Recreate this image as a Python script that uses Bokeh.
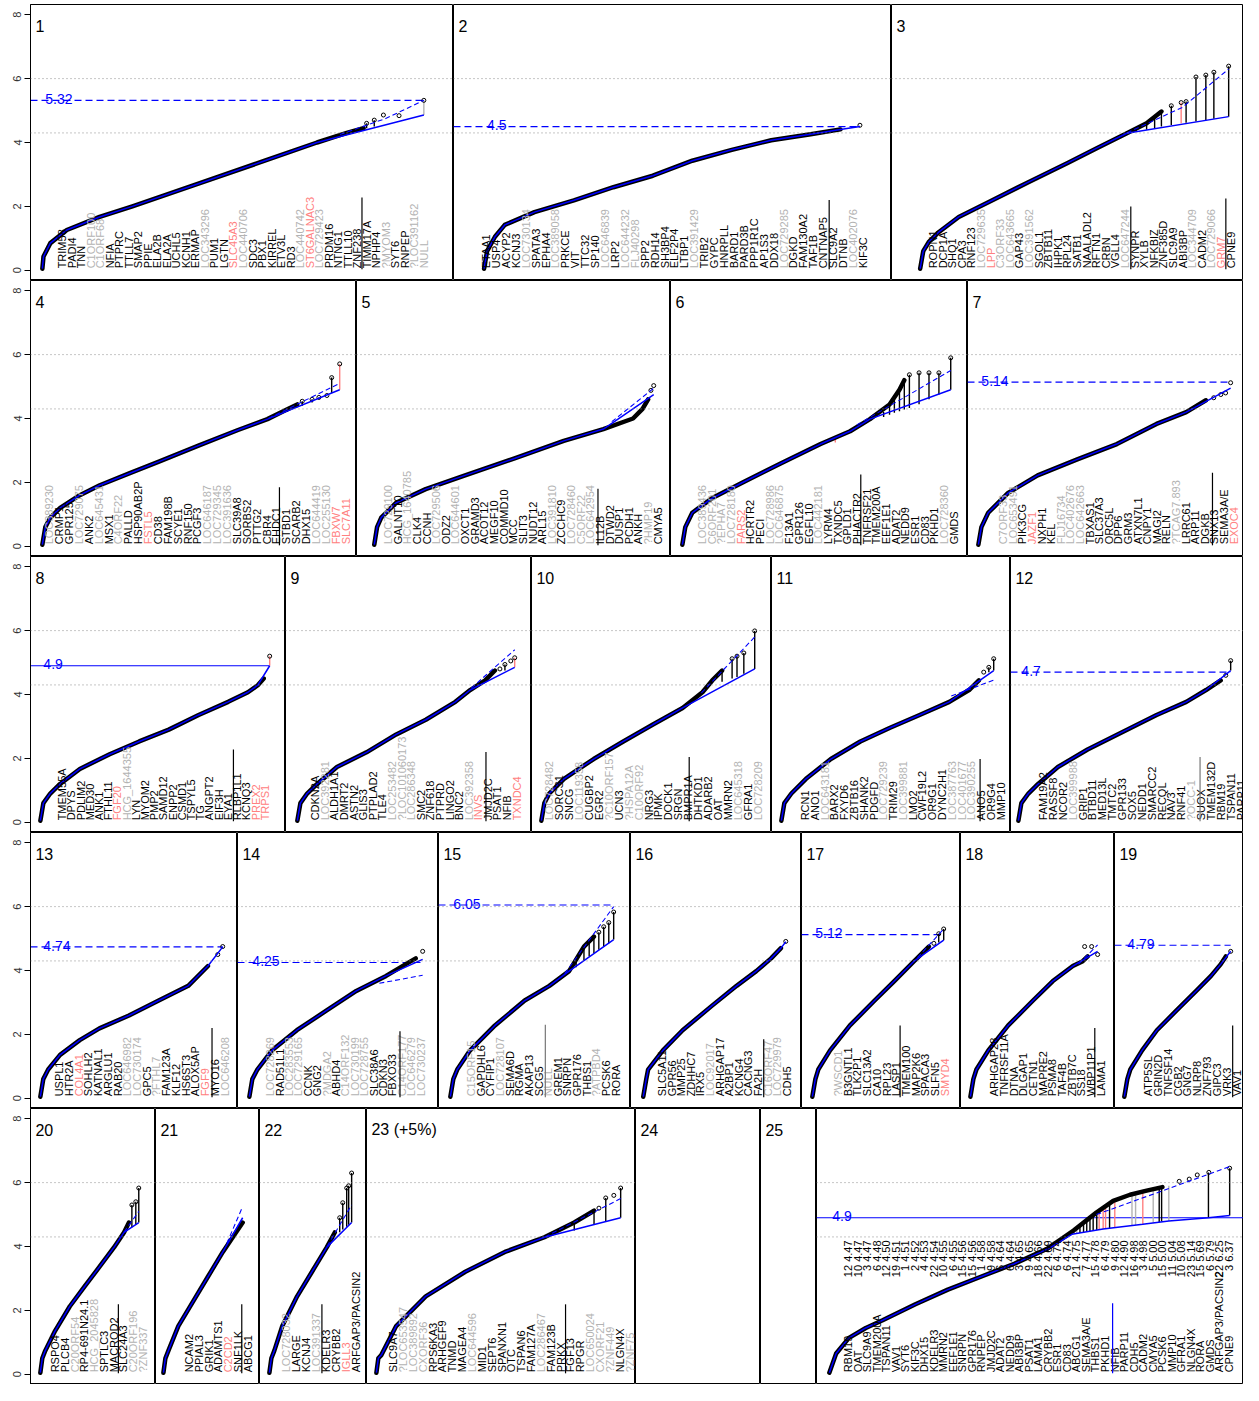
import math
from bokeh.plotting import figure
from bokeh.layouts import row, column
from bokeh.models import Range1d, FixedTicker, Span
from bokeh.core.properties import value
from bokeh.embed import file_html
from bokeh.resources import INLINE

# ------------------------------------------------------------------ data
# gene labels per chromosome panel ("~" = grey, "!" = red)
LABELS = {
 1: "TRIM58 PADI4 TNN ~C1ORF100 ~C1ORF68 NFIA PTPRC TTLL7 SMAP2 PPIE ELA2B ELA2A UCHL5 KCNH1 ERMAP ~LOC343296 PUM1 LGTN !SLC45A3 ~LOC440706 SDC3 PBX1 KIRREL ETV3L RD3 ~LOC440742 !ST6GALNAC3 ~LOC729423 PRDM16 NTNG1 TTLL10 ZNF238 TIMM17A NPHP4 ~?MYOM3 SYT6 RNPEP ~?LOC391162 ~NULL",
 2: "ETAA1 USP4 ACYP2 KCNJ3 ~LOC730134 SPATA3 EPHA4 ~LOC389058 PRKCE VIT TTC32 SP140 ~LOC646839 LRP2 ~LOC644232 ~FLJ40298 SPP2 RDH14 SH3BP4 ELF2P4 LTBP1 ~LOC391429 TRIB2 GYPC HNRPLL BARD1 PARD3B PPP1R1C AP1S3 DDX18 ~LOC729285 DGKD FAM130A2 TAF1B CNTNAP5 SLC9A2 DTNB ~LOC402076 KIF3C",
 3: "ROPN1 DCP1A SHQ1 CPA3 RNF123 ~LOC729635 !LPP ~C3ORF33 ~LOC643665 GAP43 ~LOC391562 SGOL1 ZBTB11 IHPK1 RPL24 SATB1 NAALADL2 RFTN1 CRBN VGLL4 ~LOC647244 SYNPR XYLB NFKBIZ ZNF385D SLC9A9 ABI3BP ~LOC344709 CADM2 ~LOC729066 !GRM7 CPNE9",
 4: "~LOC389230 CRMP1 GPR125 ~LOC729075 ANK2 ~LOC645431 MSX1 ~C4ORF22 PALLD HSP90AB2P !FSTL5 CD38 FAM198B SCYE1 RNF150 PCGF3 ~LOC646187 ~LOC729345 ~LOC391636 SLC39A8 SORBS2 PTTG2 CBR4 EHDC1 STBD1 SCARB2 DHX15 ~LOC644419 ~LOC255130 !FBXW7 !SLC7A11",
 5: "~LOC729100 GALNT10 ~HCG_1640785 CLK4 CCNH ~LOC729506 ODZ2 ~LOC644601 OXCT1 GRAMD3 ACOT12 MEGF10 COMMD10 MCC SLIT3 NUDT12 ARL15 ~LOC391810 ZCCHC9 ~LOC728460 ~C5ORF22 ~LOC642954 IL12B DTWD2 DUSP1 PCDH1 ANKH ~?HMP19 CMYA5",
 6: "~LOC389436 ~C6ORF201 ~?EPHA7 ~LOC728180 !FARS2 HCRTR2 PECI ~LOC728986 ~LOC646875 F13A1 GPR126 EGFL10 ~LOC442181 LYRM4 TXNDC5 GPLD1 PHACTR2 TNFRSF21 TMEM200A EEF1E1 ADAT2 NEDD9 ESR1 CD83 PKHD1 ~LOC728360 GMDS",
 7: "~C7ORF33 ~LOC653491 PIK3CG !JAZF1 NXPH1 KEL ~FLJ16734 ~LOC402676 ~LOC642663 TBXAS1 SLC37A3 ORC5L DPP6 GRM3 ATXN7L1 CNPY1 MAGI2 RELN ~?TCAG7.893 LRRC61 ARP11 DGKB SNX13 SEMA3A/E !EXOC4",
 8: "TMEM55A DPYS PDLIM2 MED30 ANK1 FTHL11 !FGF20 ~HCG_1644355 LYN MYOM2 PMP2 SAMD12 ENPP2 CSMD1 TSPYL5 TG ANGPT2 EIF3H EYA1 RLBP1L1 KCNQ3 !PREX2 !TRPS1",
 9: "CDKN2A ~LOC392281 ALDH1A1 DMRT2 ASTN2 GLIS3 PTPLAD2 TLE4 ~LOC253482 ~?LOC101060173 ~LOC286348 SMC2 ZNF618 PTPRD LINGO2 BNC2 ~LOC392358 !INVS JMJD2C PSAT1 NFIB !TXNDC4",
 10: "~LOC728482 SORCS1 SNCG ~LOC119358 CUGBP2 EGR2 ~?C10ORF157 UCN3 ~?HSPA12A ~C10ORF92 NRG3 IPMK DOCK1 SRGN BMPR1A DHTKD1 ADARB2 OAT MMRN2 ~LOC645318 GFRA1 ~LOC728209",
 11: "RCN1 ANO1 ~LOC643181 BARX2 FXYD6 ZBTB16 SHANK2 PDGFD ~LOC729239 TRIM29 ~LOC399881 LMO2 CWF19L2 OR9G1 DYNC2H1 ~LOC387763 ~LOC401677 ~LOC390255 ANO5 OR9G4 MMP10",
 12: "FAM19A2 RASSF8 NCOR2 ~LOC399988 GRIP1 BTBD11 MED13L TMTC2 GPR133 SOX5 NEDD1 SMARCC2 RECQL NAV3 RNF41 ~?OCC-1 SUOX TMEM132D RBM19 TSPAN11 PARP11",
 13: "USPL1 HTR2A !COL4A1 SOHLH2 KATNAL1 ARGLU1 RAB20 ~LOC646982 ~LOC730174 GPC5 ~?FTHL7 FAM123A KLF12 HS6ST3 ALOX5AP !FGF9 MYO16 ~LOC646208",
 14: "~LOC728269 RAD51L1 ~LOC283553 ~LOC729165 CCNK GNG2 ~?MDGA2 ABHD4 ~C14ORF132 ~LOC730199 ~LOC728755 SLC38A6 CDKN3 FBXO33 ~C14ORF177 ~LOC646279 ~LOC730237",
 15: "~C15ORF15 GAPDHL6 CYFIP1 ~LOC728107 SEMA6D RGMA AKAP13 SCG5 ~NULL GREM1 SNRPN GPR176 THBS1 ~?ATPBD4 PCSK6 RORA",
 16: "SLC5A11 GPR56 MMP25 ZDHHC7 IRX5 ~LOC92017 ARHGAP17 A2BP1 KCNG4 CACNG3 FA2H ~C16ORF47 ~LOC729979 CDH5",
 17: "~?WSCD1 B3GNTL1 TLK2P1 SLC13A2 CA10 RPL23 LASP1 TMEM100 MAP2K6 SPACA3 SLFN5 !SMYD4",
 18: "ARHGAP28 TNFRSF11A DTNA DLGAP1 CETN1 MAPRE2 PSMA8 TAF4B ZBTB7C SS18 WBP11P1 LAMA1",
 19: "ATP5SL GRIN2D TNFSF14 CGB2 GNG7 NLRP8 ZNF793 GIPC3 VRK3 VAV1",
 20: "RSPO4 PLCB4 ~C20ORF54 RP4-691N24.1 ~HCG_2045828 SPTLC3 MACROD2 SLC24A3 ~C20ORF196 ~?ZNF337",
 21: "NCAM2 PPIAL3 GRIK1 ADAMTS1 !C2CD2 SNF1LK ABCG1",
 22: "~LOC728032 LARGE KCNJ4 ~LOC391337 KDELR3 CRYBB2 !IGLL3 ARFGAP3/PACSIN2",
 23: "SLC9A7 ~?LOC653547 ~LOC389892 ~CXORF36 RPS6KA3 ARHGEF9 TNMD MAGEA4 ~LOC644596 MID1 SEPT6 SPANXN1 OTC TSPAN6 FAM127A ~LOC286467 FAM123B PRKX FGF13 RPGR ~LOC650024 ~CXORF21 ~?ZNF449 NLGN4X ~?ZNF75",
 "all": "RBM19 OAT SLC9A9 TMEM200A TSPAN11 VAV1 SYT6 KIF3C DHX15 KDELR3 MMRN2 EEF1E1 SNRPN GPR176 RNPEP JMJD2C ADAT2 NEDD9 ABI3BP PSAT1 LAMA1 CRYBB2 ESR1 CD83 ABCG1 SEMA3A/E THBS1 PKHD1 NFIB PARP11 CDH5 CADM2 CMYA5 PCSK6 MMP10 GFRA1 NLGN4X RORA GMDS ARFGAP3/PACSIN2 CPNE9",
}

# top genes of the pooled panel: chromosome and -log10 p
SUMMARY_CHR = [12, 10, 3, 6, 12, 19, 1, 2, 4, 22, 10, 6, 15, 15, 1, 9, 6, 6, 3, 9, 18,
               22, 6, 6, 21, 7, 15, 6, 9, 12, 16, 3, 5, 15, 11, 10, 23, 15, 6, 22, 3]
SUMMARY_VAL = [4.47, 4.47, 4.47, 4.48, 4.50, 4.51, 4.51, 4.52, 4.53, 4.54, 4.55, 4.55,
               4.56, 4.56, 4.58, 4.58, 4.64, 4.64, 4.65, 4.65, 4.66, 4.69, 4.74, 4.74,
               4.75, 4.77, 4.78, 4.79, 4.80, 4.90, 4.98, 4.98, 5.00, 5.00, 5.04, 5.08,
               5.14, 5.69, 5.79, 6.25, 6.37]

# observed -log10 p versus rank fraction (dense part of each panel)
CURVE_X = {
 1: [0, .003, .021, .064, .150, .236, .409, .583, .720, .798, .842],
 2: [0, .008, .029, .055, .134, .239, .344, .449, .554, .659, .764, .869, .948],
 3: [0, .01, .029, .061, .125, .221, .349, .478, .574, .670, .734, .782],
 4: [0, .01, .027, .06, .126, .193, .292, .392, .525, .658, .757, .824, .857],
 5: [0, .01, .025, .078, .184, .325, .502, .678, .82, .926, .96, .98],
 6: [0, .011, .037, .11, .221, .368, .515, .625, .699, .772, .809, .827],
 7: [0, .012, .039, .118, .235, .392, .549, .706, .824, .902],
 8: [0, .013, .043, .086, .172, .302, .431, .56, .69, .819, .905, .948, .974],
 9: [0, .014, .045, .091, .182, .318, .455, .591, .727, .795, .864, .909],
 10: [0, .014, .037, .106, .245, .384, .523, .662, .755, .801, .847],
 11: [0, .014, .047, .116, .233, .372, .512, .651, .791, .884, .93],
 12: [0, .014, .047, .093, .186, .326, .512, .651, .791, .884, .953],
 13: [0, .016, .043, .108, .216, .324, .486, .649, .811, .919],
 14: [0, .017, .046, .131, .274, .446, .617, .789, .903, .96],
 15: [0, .018, .042, .121, .273, .455, .606, .727, .818, .879],
 16: [0, .021, .034, .138, .276, .483, .655, .793, .897, .966],
 17: [0, .023, .045, .135, .286, .474, .624, .774, .887],
 18: [0, .023, .047, .141, .297, .492, .648, .805, .883, .922],
 19: [0, .028, .056, .167, .306, .491, .676, .815, .907, .954],
 20: [0, .02, .05, .15, .3, .45, .6, .75, .85, .9],
 21: [0, .025, .063, .188, .375, .563, .75, .875, 1.0],
 22: [0, .024, .06, .157, .337, .518, .699, .795],
 23: [0, .008, .02, .081, .202, .364, .526, .688, .81, .891],
 "all": [0, .017, .049, .091, .133, .215, .296, .38, .462, .543, .61, .667, .709, .751, .79, .832],
}
CURVE_Y = {
 1: [.05, .43, .85, 1.26, 1.67, 2.0, 2.71, 3.43, 4.0, 4.3, 4.45],
 2: [.05, .6, 1.05, 1.42, 1.82, 2.19, 2.6, 2.96, 3.43, 3.77, 4.07, 4.26, 4.41],
 3: [.05, .6, .9, 1.2, 1.67, 2.13, 2.75, 3.36, 3.83, 4.29, 4.6, 4.97],
 4: [.05, .6, .9, 1.2, 1.6, 1.91, 2.28, 2.65, 3.15, 3.64, 3.98, 4.29, 4.44],
 5: [.05, .6, .9, 1.36, 1.79, 2.22, 2.75, 3.3, 3.67, 4.0, 4.3, 4.6],
 6: [.05, .6, 1.05, 1.5, 1.98, 2.6, 3.2, 3.6, 3.98, 4.44, 4.9, 5.2],
 7: [.05, .6, 1.05, 1.67, 2.22, 2.72, 3.2, 3.83, 4.2, 4.57],
 8: [.05, .6, .9, 1.2, 1.67, 2.13, 2.53, 2.9, 3.36, 3.77, 4.07, 4.29, 4.5],
 9: [.05, .6, .9, 1.2, 1.73, 2.19, 2.75, 3.21, 3.77, 4.14, 4.44, 4.75],
 10: [.05, .6, .9, 1.36, 1.98, 2.53, 3.06, 3.58, 4.07, 4.44, 4.75],
 11: [.05, .6, .9, 1.36, 1.98, 2.53, 2.96, 3.36, 3.77, 4.14, 4.44],
 12: [.05, .6, .9, 1.2, 1.73, 2.28, 2.9, 3.36, 3.77, 4.14, 4.44],
 13: [.05, .6, .9, 1.36, 1.82, 2.19, 2.59, 3.06, 3.52, 4.14],
 14: [.05, .6, .9, 1.5, 2.13, 2.75, 3.36, 3.83, 4.2, 4.38],
 15: [.05, .6, .9, 1.5, 2.28, 3.06, 3.52, 3.98, 4.75, 5.06],
 16: [.05, .6, .9, 1.5, 2.13, 2.9, 3.52, 3.98, 4.38, 4.7],
 17: [.05, .6, .9, 1.5, 2.28, 3.06, 3.67, 4.29, 4.75],
 18: [.05, .6, .9, 1.5, 2.28, 3.06, 3.67, 4.14, 4.29, 4.44],
 19: [.05, .6, .9, 1.5, 2.13, 2.75, 3.36, 3.83, 4.2, 4.44],
 20: [.05, .5, .74, 1.36, 2.13, 2.75, 3.36, 3.98, 4.44, 4.75],
 21: [.05, .5, .74, 1.51, 2.28, 3.06, 3.83, 4.29, 4.75],
 22: [.05, .5, .74, 1.51, 2.44, 3.21, 3.98, 4.44],
 23: [.05, .5, .6, 1.51, 2.44, 3.21, 3.83, 4.29, 4.75, 5.12],
 "all": [.05, .65, 1.14, 1.45, 1.69, 2.19, 2.65, 3.06, 3.46, 3.92, 4.5, 5.06, 5.43, 5.62, 5.74, 5.86],
}
# sparse top points
TAIL_X = {
 1: [.850, .870, .894, .935, 1.0], 2: [1.0], 3: [.814, .846, .862, .894, .926, .952, 1.0],
 4: [.874, .907, .93, .957, .973, 1.0], 5: [.99, 1.0], 6: [.846, .882, .919, .956, 1.0],
 7: [.933, .961, .98, 1.0], 8: [1.0], 9: [.932, .955, .982, 1.0], 10: [.894, .917, .949, 1.0],
 11: [.953, .977, 1.0], 12: [.977, 1.0], 13: [.973, 1.0], 14: [1.0], 15: [.909, .939, .97, 1.0],
 16: [1.0], 17: [.925, .962, 1.0], 18: [.898, .953, 1.0], 19: [1.0], 20: [.93, .97, 1.0],
 21: [], 22: [.855, .892, .94, .964, 1.0], 23: [.911, .939, .972, 1.0],
 "all": [.874, .899, .919, .948, 1.0],
}
TAIL_Y = {
 1: [4.6, 4.7, 4.86, 4.84, 5.32], 2: [4.54], 3: [5.15, 5.25, 5.28, 6.05, 6.11, 6.2, 6.39],
 4: [4.54, 4.6, 4.66, 4.72, 5.28, 5.71], 5: [4.88, 5.03], 6: [5.37, 5.43, 5.43, 5.43, 5.9],
 7: [4.65, 4.75, 4.8, 5.12], 8: [5.2], 9: [4.8, 4.94, 5.05, 5.15], 10: [5.12, 5.2, 5.3, 5.99],
 11: [4.7, 4.85, 5.12], 12: [4.6, 5.06], 13: [4.5, 4.75], 14: [4.6], 15: [5.2, 5.37, 5.5, 5.83],
 16: [4.91], 17: [4.85, 5.15, 5.3], 18: [4.75, 4.75, 4.5], 19: [4.6], 20: [5.3, 5.4, 5.83],
 21: [], 22: [4.9, 5.37, 5.83, 5.9, 6.3], 23: [5.2, 5.52, 5.6, 5.83],
 "all": [6.04, 6.11, 6.24, 6.32, 6.45],
}
# expected (null) line: follows the observed curve up to EXP_SPLIT, then these points
EXP_SPLIT = {1: .79, 2: .95, 3: .67, 4: .76, 5: .82, 6: .70, 7: .90, 8: .97, 9: .80, 10: .75,
             11: .88, 12: .95, 13: .92, 14: .90, 15: .73, 16: .97, 17: .80, 18: .88, 19: .95,
             20: .85, 21: .87, 22: .70, 23: .69, "all": .50}
EXP_TAIL_X = {"all": [.55, .606, .684, .783, .848, .947, 1.0]}
EXP_TAIL_Y = {"all": [3.95, 4.38, 4.55, 4.7, 4.8, 4.9, 4.97]}
EXP_END = {1: 4.86, 2: 4.5, 3: 4.81, 4: 4.9, 5: 4.75, 6: 4.9, 7: 4.95, 8: 4.9, 9: 4.85,
           10: 4.8, 11: 4.75, 12: 4.75, 13: 4.74, 14: 4.35, 15: 4.97, 16: 4.9, 17: 4.95,
           18: 4.6, 19: 4.6, 20: 4.75, 21: 4.9, 22: 4.75, 23: 4.9}
# fitted (dashed blue) upper curve
DASH_X = {1: [.78, .9, 1.0], 3: [.67, .85, 1.0], 4: [.76, 1.0], 5: [.85, 1.0], 6: [.65, 1.0],
          9: [.8, 1.0], 10: [.75, 1.0], 11: [.8, 1.0], 14: [.75, 1.0], 15: [.7, 1.0],
          17: [.8, 1.0], 18: [.85, 1.0], 20: [.85, 1.0], 21: [.8, 1.0], 22: [.7, 1.0],
          23: [.69, 1.0], "all": [.667, 1.0]}
DASH_Y = {1: [4.25, 4.75, 5.32], 3: [4.3, 5.1, 6.3], 4: [4.0, 5.1], 5: [3.9, 4.95], 6: [3.8, 5.5],
          9: [4.2, 5.4], 10: [4.05, 5.8], 11: [3.95, 4.45], 14: [3.6, 3.85], 15: [3.9, 6.0],
          17: [4.4, 5.3], 18: [4.2, 4.8], 20: [4.45, 5.1], 21: [4.1, 5.25], 22: [4.0, 5.3],
          23: [4.3, 5.5], "all": [5.0, 6.5]}
# significance thresholds (value, solid?)
THRESH = {1: (5.32, False), 2: (4.5, False), 7: (5.14, False), 8: (4.9, True), 12: (4.7, False),
          13: (4.74, False), 14: (4.25, False), 15: (6.05, False), 17: (5.12, False),
          19: (4.79, False), "all": (4.9, True)}
# vertical residual segments: (x, top, bottom, colour code)
SEGS = {
 1: [(1.0, 5.32, 4.86, "g"), (.85, 4.6, 4.45, "k"), (.87, 4.7, 4.5, "k")],
 3: [(.70, 4.45, 4.35, "k"), (.734, 4.6, 4.4, "k"), (.76, 4.8, 4.45, "k"), (.782, 4.97, 4.5, "k"),
     (.814, 5.15, 4.55, "k"), (.846, 5.25, 4.6, "r"), (.862, 5.28, 4.62, "k"), (.894, 6.05, 4.66, "k"),
     (.926, 6.11, 4.7, "k"), (.952, 6.2, 4.74, "k"), (1.0, 6.39, 4.81, "k")],
 4: [(.824, 4.29, 4.2, "k"), (.857, 4.44, 4.35, "k"), (.874, 4.54, 4.4, "k"), (.907, 4.6, 4.5, "k"),
     (.93, 4.66, 4.6, "k"), (.973, 5.28, 4.8, "k"), (1.0, 5.71, 4.9, "r")],
 6: [(.75, 4.2, 4.05, "k"), (.772, 4.44, 4.12, "k"), (.79, 4.7, 4.18, "k"), (.809, 4.9, 4.23, "k"),
     (.827, 5.2, 4.28, "k"), (.846, 5.37, 4.33, "k"), (.882, 5.43, 4.45, "k"), (.919, 5.43, 4.6, "k"),
     (.956, 5.43, 4.75, "k"), (1.0, 5.9, 4.9, "k"), (.57, 3.4, 3.25, "r")],
 8: [(1.0, 5.2, 4.9, "r")],
 9: [(.955, 4.94, 4.75, "k"), (1.0, 5.15, 4.85, "r")],
 10: [(.847, 4.75, 4.4, "k"), (.894, 5.12, 4.5, "k"), (.917, 5.2, 4.55, "k"), (.949, 5.3, 4.65, "k"),
      (1.0, 5.99, 4.8, "k")],
 11: [(.977, 4.85, 4.7, "k"), (1.0, 5.12, 4.75, "k")],
 12: [(1.0, 5.06, 4.75, "k")],
 15: [(.77, 4.3, 4.1, "k"), (.818, 4.75, 4.3, "k"), (.85, 4.9, 4.45, "k"), (.879, 5.06, 4.55, "k"),
      (.909, 5.2, 4.65, "k"), (.939, 5.37, 4.75, "k"), (.97, 5.5, 4.85, "k"), (1.0, 5.83, 4.97, "k")],
 17: [(.962, 5.15, 4.88, "k"), (1.0, 5.3, 4.95, "k")],
 20: [(.93, 5.3, 4.6, "k"), (.97, 5.4, 4.68, "k"), (1.0, 5.83, 4.75, "k")],
 22: [(.855, 4.9, 4.45, "k"), (.892, 5.37, 4.53, "k"), (.94, 5.83, 4.62, "k"), (.964, 5.9, 4.68, "k"),
      (1.0, 6.3, 4.75, "k")],
 23: [(.81, 4.75, 4.5, "k"), (.891, 5.12, 4.7, "k"), (.939, 5.52, 4.8, "k"), (1.0, 5.83, 4.9, "k")],
 "all": [(.606, 4.45, 4.38, "k"), (.618, 4.55, 4.4, "g"), (.626, 4.65, 4.42, "k"), (.635, 4.75, 4.44, "k"),
         (.643, 4.85, 4.46, "k"), (.651, 4.95, 4.48, "k"), (.659, 5.0, 4.5, "k"), (.668, 5.06, 4.52, "k"),
         (.674, 5.1, 4.53, "r"), (.684, 5.2, 4.55, "r"), (.69, 5.27, 4.56, "r"), (.70, 5.35, 4.58, "k"),
         (.713, 5.43, 4.6, "r"), (.756, 5.63, 4.65, "g"), (.765, 5.65, 4.67, "g"), (.783, 5.72, 4.7, "r"),
         (.809, 5.8, 4.74, "g"), (.824, 5.84, 4.77, "k"), (.83, 5.86, 4.78, "k"), (.848, 5.9, 4.8, "g"),
         (.947, 6.32, 4.9, "k"), (1.0, 6.45, 4.97, "k")],
}
# marker line in the label strip: (label index, top value, colour)
LABEL_LINE = {1: [(31.5, 2.28, "black")], 2: [(34.6, 2.2, "black")],
              3: [(20.6, 2.0, "black"), (30.5, 2.25, "black")], 4: [(23.3, 1.85, "black")],
              5: [(21.8, 1.8, "black")], 6: [(16.4, 2.25, "black")], 7: [(21.8, 2.3, "black")],
              8: [(18.6, 2.28, "black")], 9: [(17.8, 2.2, "black")], 10: [(14.1, 2.04, "black")],
              11: [(17.9, 1.98, "black")], 12: [(15.9, 2.04, "#777777")], 13: [(15.7, 2.2, "black")],
              14: [(13.8, 2.1, "black")], 15: [(7.7, 2.3, "#777777")], 16: [(10.6, 1.85, "black")],
              17: [(6.4, 2.28, "black")], 18: [(10.4, 2.2, "black")], 19: [(8.6, 2.28, "black")],
              20: [(6.5, 2.19, "black")], 21: [(5.4, 2.19, "black")], 22: [(3.6, 2.19, "black")],
              23: [(17.5, 2.19, "black")], "all": [(27.8, 2.22, "blue")]}
PANEL_TITLE = {23: "23 (+5%)", "all": ""}
Y_TICKS = [0, 2, 4, 6, 8]
GUIDES = [6.0, 4.3]

# ------------------------------------------------------------------ layout (reference px)
# (panel, left, right, curve start, curve end)
ROWS = [
 [(1, 30, 458, 42, 428), (2, 458, 902, 489, 870), (3, 902, 1258, 931, 1243)],
 [(4, 30, 360, 42, 343), (5, 360, 678, 378, 661), (6, 678, 979, 690, 962), (7, 979, 1258, 990, 1245)],
 [(8, 30, 288, 40, 272), (9, 288, 537, 300, 520), (10, 537, 780, 547, 763), (11, 780, 1022, 790, 1005),
  (12, 1022, 1258, 1030, 1245)],
 [(13, 30, 240, 40, 225), (14, 240, 443, 252, 427), (15, 443, 637, 455, 620), (16, 637, 811, 650, 795),
  (17, 811, 972, 822, 955), (18, 972, 1127, 982, 1110), (19, 1127, 1258, 1137, 1245)],
 [(20, 30, 157, 40, 140), (21, 157, 262, 165, 245), (22, 262, 370, 272, 355), (23, 370, 642, 380, 627),
  (24, 642, 769, None, None), (25, 769, 826, None, None), ("all", 826, 1258, 839, 1244)],
]
LABEL_PX = {1: (62, 428), 2: (491, 873), 3: (944, 1245), 4: (49, 349), 5: (392, 665), 6: (710, 965),
            7: (1015, 1248), 8: (62, 267), 9: (318, 522), 10: (555, 766), 11: (814, 1012),
            12: (1055, 1255), 13: (59, 227), 14: (273, 425), 15: (476, 622), 16: (669, 796),
            17: (848, 956), 18: (1006, 1113), 19: (1161, 1251), 20: (55, 144), 21: (191, 250),
            22: (289, 359), 23: (397, 636), "all": (858, 1243)}

AXW = 30
KX = 1213 / 1228
FRAME_H = 276
TOP_PAD = 4
YLO, YHI = -0.32, 8.32
FONT = value("Liberation Sans")
COL = {"k": "black", "g": "#b3b3b3", "r": "#ff8080"}


def tx(xref):
    return AXW + round((xref - 30) * KX)


def parse_labels(s):
    names, cols = [], []
    for tok in s.split():
        if tok.startswith("~"):
            names.append(tok[1:]); cols.append(COL["g"])
        elif tok.startswith("!"):
            names.append(tok[1:]); cols.append(COL["r"])
        else:
            names.append(tok); cols.append(COL["k"])
    return names, cols


def build(pid, L, R, cs, ce, first, top_pad):
    fw = tx(R) - tx(L)
    if cs is None:
        xr = Range1d(0, R - L)
        conv = lambda px: px - L
    else:
        sp = ce - cs
        xr = Range1d((L - cs) / sp, (R - cs) / sp)
        conv = lambda px, cs=cs, sp=sp: (px - cs) / sp
    p = figure(width=fw + (AXW if first else 0), height=FRAME_H + top_pad,
               x_range=xr, y_range=Range1d(YLO, YHI), output_backend="svg",
               toolbar_location=None, x_axis_location=None,
               y_axis_location="left" if first else None,
               min_border_left=AXW if first else 0, min_border_right=0,
               min_border_top=top_pad, min_border_bottom=0)
    for g in p.grid:
        g.visible = False
    p.outline_line_color = "black"
    p.outline_line_width = 1
    p.background_fill_color = "white"
    p.border_fill_color = "white"
    if first:
        ax = p.yaxis[0]
        ax.ticker = FixedTicker(ticks=Y_TICKS)
        ax.major_label_orientation = "vertical"
        ax.major_tick_out = 6
        ax.major_tick_in = 0
        ax.minor_tick_out = 0
        ax.minor_tick_in = 0
        ax.major_label_standoff = 3
        ax.major_label_text_font_size = "11px"
        ax.major_label_text_font = "Liberation Sans"
        ax.major_label_text_color = "#333333"
        ax.axis_line_color = "black"

    title = PANEL_TITLE.get(pid, str(pid))
    if title:
        p.text(x=[conv(L + 5)], y=[7.65], text=[title], text_font=FONT,
               text_font_size="16px", text_baseline="middle", text_align="left",
               text_color="black")
    if cs is None:
        return p

    for g in GUIDES:
        p.add_layout(Span(location=g, dimension="width", line_color="#8c8c8c",
                          line_dash="1 3", line_width=1))

    if pid in THRESH:
        tv, solid = THRESH[pid]
        x_end = xr.end if pid == "all" else 1.0
        p.line([xr.start, x_end], [tv, tv], line_color="blue", line_width=1.2,
               line_dash="solid" if solid else "7 4")
        p.text(x=[conv(cs + 3)], y=[tv + 0.04], text=[f"{tv:g}"], text_font=FONT,
               text_font_size="14px", text_baseline="alphabetic", text_align="left",
               text_color="blue")

    # residual segments
    segs = SEGS.get(pid, [])
    if segs:
        p.segment(x0=[s[0] for s in segs], y0=[s[1] for s in segs],
                  x1=[s[0] for s in segs], y1=[s[2] for s in segs],
                  line_color=[COL[s[3]] for s in segs], line_width=1.4)

    cx, cy = CURVE_X[pid], CURVE_Y[pid]
    p.line(cx, cy, line_color="black", line_width=4.5, line_cap="round", line_join="round")
    if TAIL_X[pid]:
        p.scatter(TAIL_X[pid], TAIL_Y[pid], marker="circle", size=4, fill_color=None,
                  line_color="black", line_width=1)

    split = EXP_SPLIT[pid]
    bx = [x for x in cx if x <= split]
    by = cy[:len(bx)]
    bx = bx + EXP_TAIL_X.get(pid, [1.0])
    by = by + EXP_TAIL_Y.get(pid, [EXP_END.get(pid, 0)])
    p.line(bx, by, line_color="blue", line_width=1.5)
    if pid in DASH_X:
        p.line(DASH_X[pid], DASH_Y[pid], line_color="blue", line_width=1.1, line_dash="5 3")

    # gene labels
    names, cols = parse_labels(LABELS[pid])
    a, b = LABEL_PX[pid]
    n = len(names)
    step = (b - a) / (n - 1)
    xs = [conv(a + i * step) for i in range(n)]
    p.text(x=xs, y=[0.06] * n, text=names, text_color=cols, angle=math.pi / 2,
           text_align="left", text_baseline="middle", text_font=FONT, text_font_size="11px")
    for idx, top, c in LABEL_LINE.get(pid, []):
        lx = conv(a + idx * step)
        p.line([lx, lx], [0.03, top], line_color=c, line_width=1.2)

    if pid == "all":
        nums = [f"{c} {v:.2f}" for c, v in zip(SUMMARY_CHR, SUMMARY_VAL)]
        p.text(x=xs, y=[4.19] * n, text=nums, text_color="black", angle=math.pi / 2,
               text_align="right", text_baseline="middle", text_font=FONT,
               text_font_size="11px")
    return p


rows = []
for r, spec in enumerate(ROWS):
    figs = []
    for j, (pid, L, R, cs, ce) in enumerate(spec):
        figs.append(build(pid, L, R, cs, ce, j == 0, TOP_PAD if r == 0 else 0))
    rows.append(row(*figs, spacing=0))
layout = column(*rows, spacing=0)

open("out.html", "w").write(file_html(layout, INLINE))
